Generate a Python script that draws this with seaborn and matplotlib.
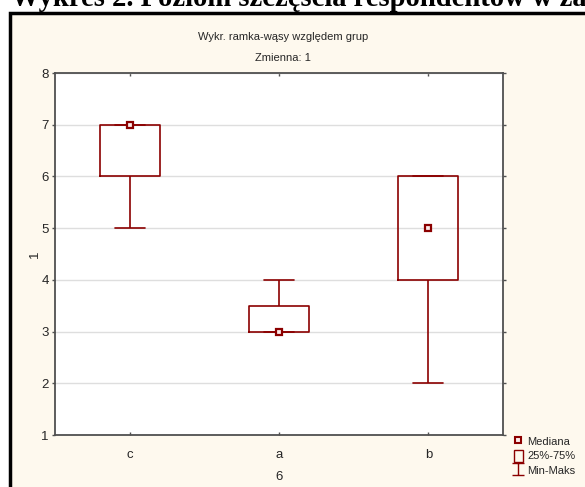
import pandas as pd
import matplotlib.pyplot as plt
import matplotlib.patches as mpatches
from matplotlib.lines import Line2D
from matplotlib.path import Path
import seaborn as sns

# data: responses per group (variable "6"), values of variable "1"
groups = ['c', 'a', 'b']
values_c = [5, 7, 7]
values_a = [3, 3, 4]
values_b = [2, 4, 5, 6, 6]

df = pd.DataFrame({
    'grupa': ['c'] * len(values_c) + ['a'] * len(values_a) + ['b'] * len(values_b),
    'wartosc': values_c + values_a + values_b,
})

red = '#8B0000'
cream = '#FEF9EE'
grey = '#505050'

sns.set_style('white')
plt.rcParams['font.family'] = ['Liberation Sans', 'DejaVu Sans']

fig = plt.figure(figsize=(5.85, 4.87), dpi=100, facecolor='white')

# statistica window frame (cream with thick black border)
frame = mpatches.Rectangle((9.5 / 585, -0.05), 1.0, 1 - 12.5 / 487 + 0.05,
                           transform=fig.transFigure, facecolor=cream,
                           edgecolor='black', linewidth=2.5, zorder=-5)
fig.patches.append(frame)

# cut-off document heading above the frame
fig.text(11 / 585, 1 - 6.5 / 487, 'Wykres 2. Poziom szczęścia respondentów w zależności',
         family=['Liberation Serif', 'DejaVu Serif'], fontsize=20.6, weight='bold',
         ha='left', va='baseline', color='black')

ax = fig.add_axes([55 / 585, 1 - 435 / 487, 448 / 585, 362 / 487])
ax.set_facecolor('white')

sns.boxplot(data=df, x='grupa', y='wartosc', order=groups, whis=(0, 100),
            width=0.4, fill=False, color=red, linewidth=1.2,
            medianprops=dict(linewidth=0), showfliers=False, ax=ax)
sns.pointplot(data=df, x='grupa', y='wartosc', order=groups, estimator='median',
              errorbar=None, linestyle='none', marker='s', markersize=5,
              markeredgewidth=1.6, markerfacecolor='#FDECEC', color=red, ax=ax)

ax.set_xlim(-0.5, 2.5)
ax.set_ylim(1, 8)
ax.set_yticks(range(1, 9))
ax.yaxis.grid(True, color='#DEDEDE', linewidth=1)
ax.xaxis.grid(False)
ax.set_axisbelow(True)

for s in ax.spines.values():
    s.set_visible(True)
    s.set_color(grey)
    s.set_linewidth(1.3)

ax.tick_params(axis='y', which='both', left=True, right=True, direction='out',
               length=2.5, width=1, color=grey, labelsize=9.5, pad=2)
ax.tick_params(axis='x', which='both', bottom=True, top=True, direction='in',
               length=2.5, width=1, color=grey, labelsize=9.5, pad=10)

ax.set_xlabel('6', fontsize=9.5, labelpad=7)
ax.set_ylabel('1', fontsize=9.5, labelpad=0)

fig.text(283 / 585, 1 - 37 / 487, 'Wykr. ramka-wąsy względem grup', fontsize=8,
         ha='center', va='center')
fig.text(283 / 585, 1 - 58 / 487, 'Zmienna: 1', fontsize=8, ha='center', va='center')

# legend
ibar = Path([(-1, 1), (1, 1), (0, 1), (0, -1), (-1, -1), (1, -1)],
            [Path.MOVETO, Path.LINETO, Path.MOVETO, Path.LINETO, Path.MOVETO, Path.LINETO])
handles = [
    Line2D([], [], linestyle='none', marker='s', markersize=4, markeredgewidth=1.5,
           markerfacecolor='#FDECEC', markeredgecolor=red),
    mpatches.Rectangle((0, 0), 1, 1, facecolor='none', edgecolor=red, linewidth=1),
    Line2D([], [], linestyle='none', marker=ibar, markersize=9, markeredgewidth=1,
           markeredgecolor=red),
]
fig.legend(handles, ['Mediana', '25%-75%', 'Min-Maks'], loc='lower left',
           bbox_to_anchor=(514 / 585, 11 / 487), frameon=False, fontsize=8,
           handlelength=0.8, handleheight=1.3, handletextpad=0.4, labelspacing=0.2,
           borderpad=0, borderaxespad=0)

fig.savefig('out.png', dpi=100, facecolor='white')
